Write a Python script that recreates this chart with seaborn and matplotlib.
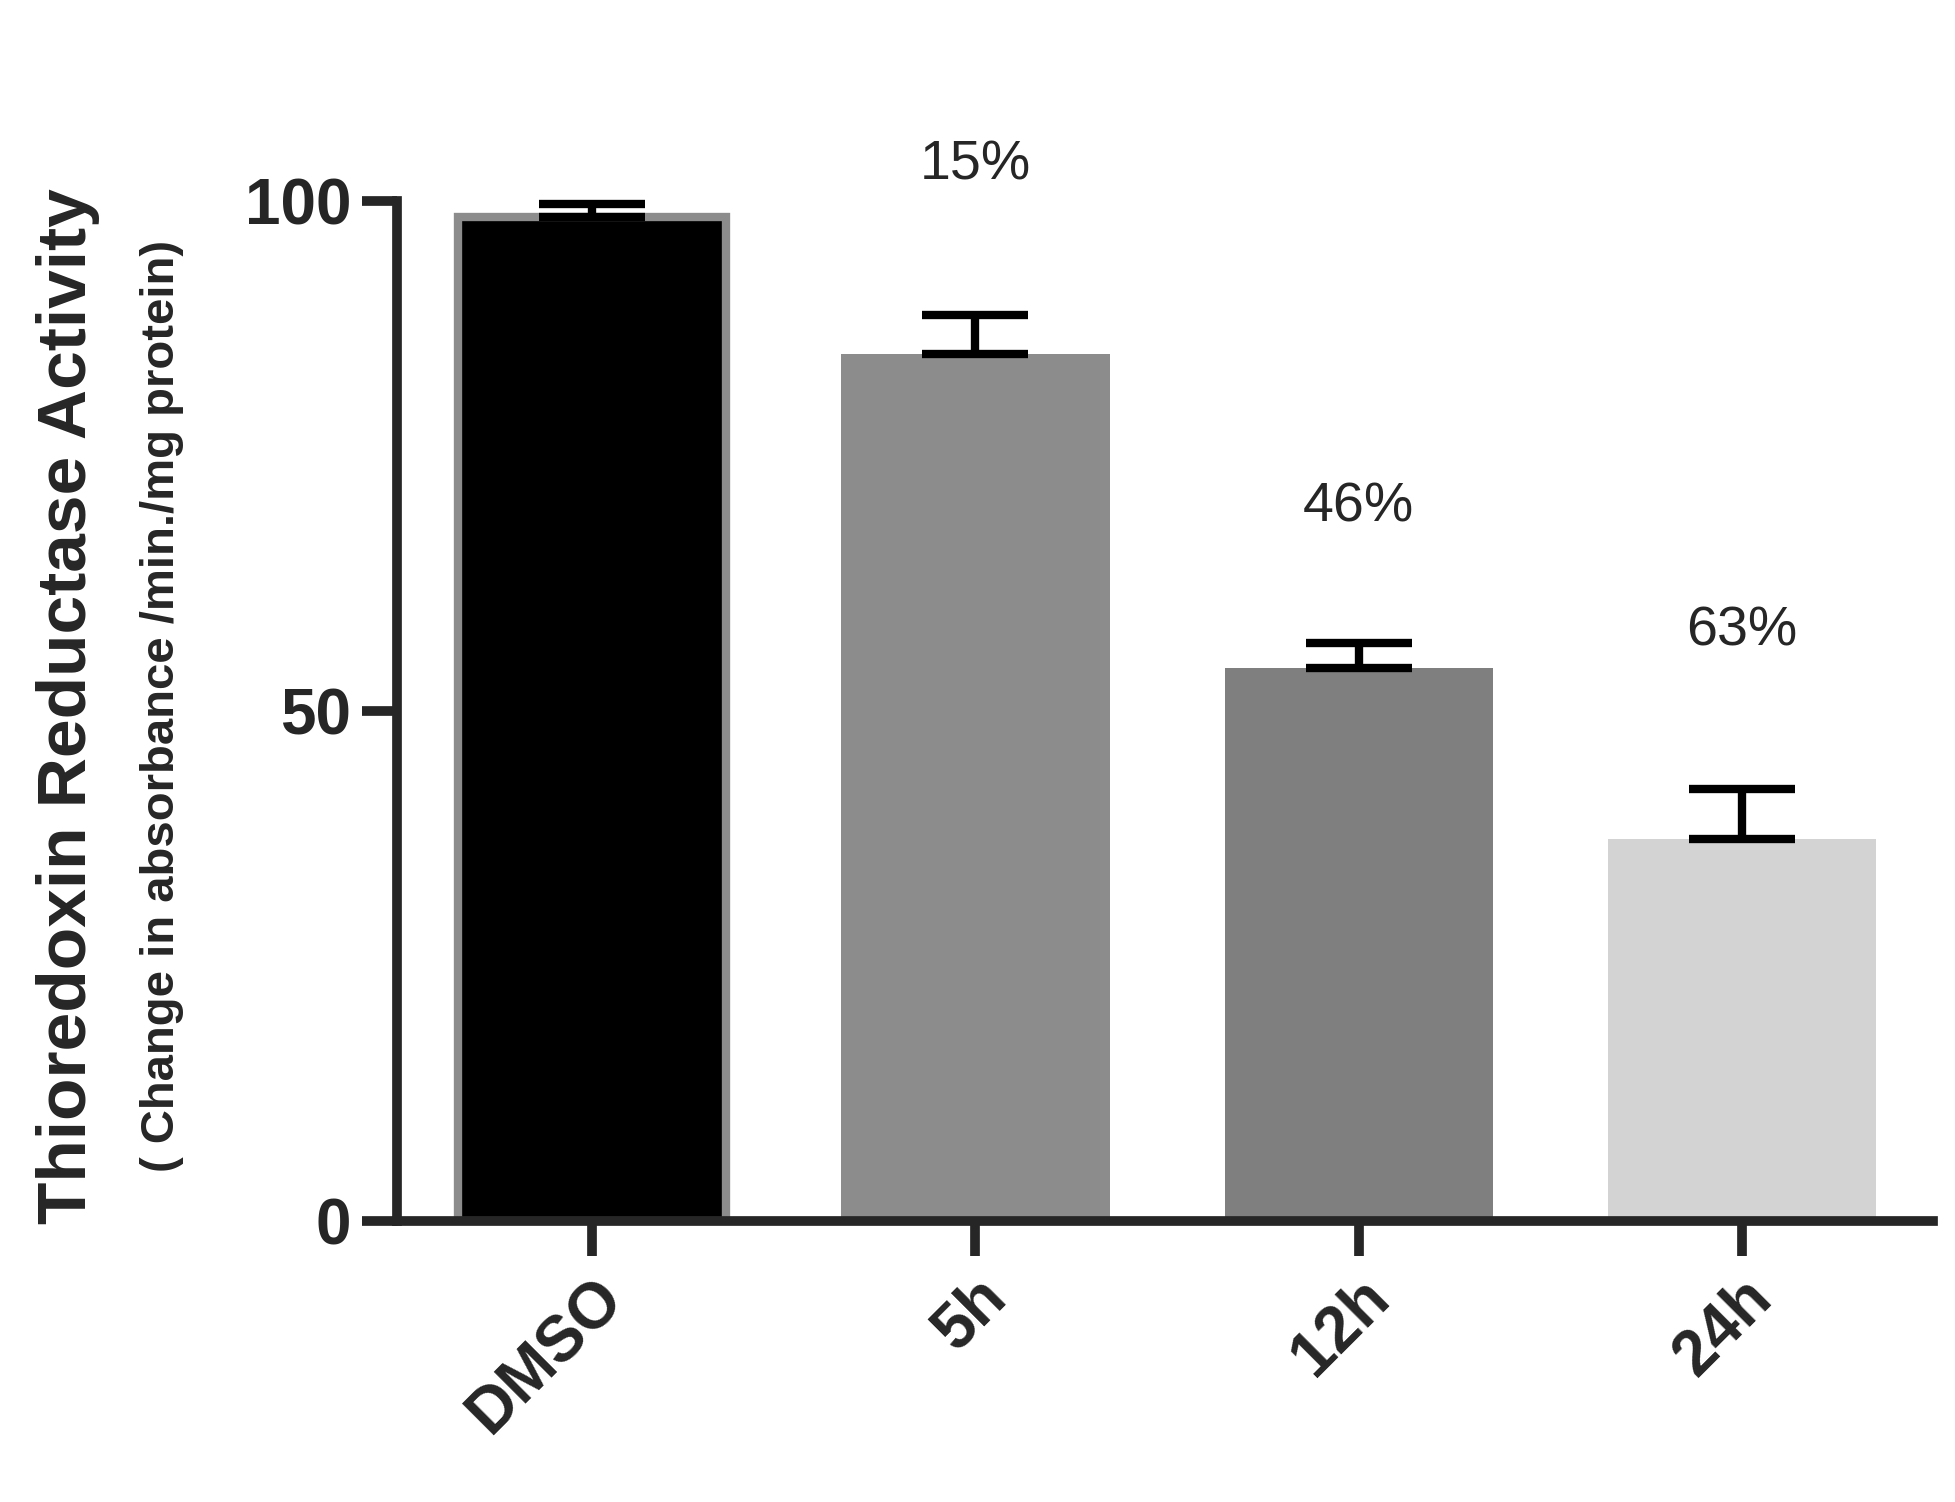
import matplotlib
matplotlib.use("Agg")
import matplotlib.pyplot as plt
import seaborn as sns
import pandas as pd

categories = ["DMSO", "5h", "12h", "24h"]
means = [98.5, 85.0, 54.2, 37.5]
errors = [1.2, 3.8, 2.5, 4.9]
labels = ["", "15%", "46%", "63%"]
label_y = [0, 103.5, 70.0, 57.8]
colors = ["#000000", "#8c8c8c", "#7f7f7f", "#d3d3d3"]

sns.set_style("ticks")
plt.rcParams['font.family'] = ['Liberation Sans', 'DejaVu Sans']

fig = plt.figure(figsize=(19.55, 15.02), dpi=100)
ax = fig.add_axes([0.203, 0.187, 0.786, 0.679])
df = pd.DataFrame({"cat": categories, "val": means})
sns.barplot(data=df, x="cat", y="val", hue="cat", palette=colors, width=0.7,
            errorbar=None, legend=False, ax=ax)
for i, p in enumerate(ax.patches):
    if i == 0:
        p.set_edgecolor("#8c8c8c"); p.set_linewidth(6)
    else:
        p.set_edgecolor("none")
ax.errorbar(range(4), means, yerr=[[0]*4, errors], fmt="none", ecolor="black",
            elinewidth=6, capsize=38, capthick=6, clip_on=False)
for i, (t, y) in enumerate(zip(labels, label_y)):
    if t:
        ax.text(i, y, t, ha="center", va="center", fontsize=40)

ax.set_ylim(0, 100)
ax.set_xlim(-0.51, 3.5)
ax.set_yticks([0, 50, 100])
ax.tick_params(axis="both", width=7, length=25, labelsize=46, pad=8)
for lab in ax.get_yticklabels() + ax.get_xticklabels():
    lab.set_fontweight("bold")
plt.setp(ax.get_xticklabels(), rotation=45, ha="right", rotation_mode="anchor")
for s in ["left", "bottom"]:
    ax.spines[s].set_linewidth(7)
sns.despine(ax=ax)
ax.set_xlabel("")
ax.set_ylabel("")
fig.text(0.035, 0.53, "Thioredoxin Reductase Activity", rotation=90, ha="center",
         va="center", fontsize=50, fontweight="bold")
fig.text(0.083, 0.53, "( Change in absorbance /min./mg protein)", rotation=90,
         ha="center", va="center", fontsize=34, fontweight="bold")
fig.savefig("out.png", dpi=100)
